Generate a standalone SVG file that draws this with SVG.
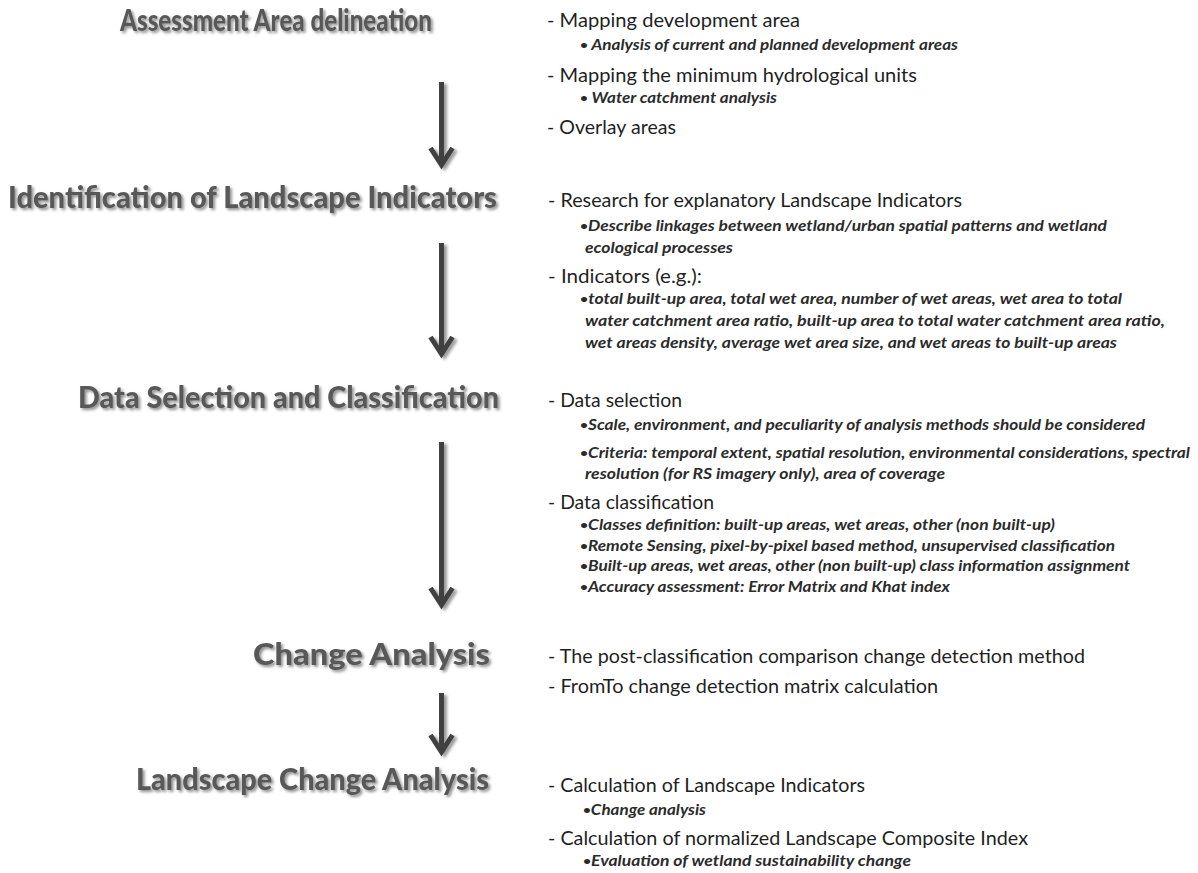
<svg xmlns="http://www.w3.org/2000/svg" width="1198" height="873" viewBox="0 0 1198 873">
<defs>
<filter id="sh" x="-10%" y="-30%" width="130%" height="180%">
<feGaussianBlur in="SourceAlpha" stdDeviation="1.6"/>
<feOffset dx="2" dy="2" result="b"/>
<feComponentTransfer in="b" result="c"><feFuncA type="linear" slope="0.45"/></feComponentTransfer>
<feMerge><feMergeNode in="c"/><feMergeNode in="SourceGraphic"/></feMerge>
</filter>
<filter id="ash" filterUnits="userSpaceOnUse" x="400" y="60" width="90" height="720">
<feGaussianBlur in="SourceAlpha" stdDeviation="1.8"/>
<feOffset dx="3" dy="2" result="b"/>
<feComponentTransfer in="b" result="c"><feFuncA type="linear" slope="0.4"/></feComponentTransfer>
<feMerge><feMergeNode in="c"/><feMergeNode in="SourceGraphic"/></feMerge>
</filter>
</defs>
<style>
.h{font-family:Lato,"Liberation Sans",sans-serif;font-weight:900;font-size:30px;fill:#595959}
.d{font-family:Lato,"Liberation Sans",sans-serif;font-size:19px;fill:#1f1f1f}
.b{font-family:Lato,"Liberation Sans",sans-serif;font-style:italic;font-weight:bold;font-size:15px;fill:#2b2b2b}
.bu{font-size:12px;font-style:normal;baseline-shift:1.5px}
.ar{stroke:#404040;stroke-width:5;fill:none;stroke-linejoin:miter;stroke-miterlimit:10}
</style>
<rect width="1198" height="873" fill="#ffffff"/>
<g id="connectors" filter="url(#ash)">
<path class="ar" d="M441.5,82 V164 M430.5,148 L441.5,165 L452.5,148"/>
<path class="ar" d="M441.5,243 V353 M430.5,337 L441.5,354 L452.5,337"/>
<path class="ar" d="M441.5,442 V604 M430.5,588 L441.5,605 L452.5,588"/>
<path class="ar" d="M441.5,693 V751 M430.5,735 L441.5,752 L452.5,735"/>
</g>
<g id="step1">
<text class="h" filter="url(#sh)" x="120" y="31" textLength="312" lengthAdjust="spacingAndGlyphs">Assessment Area delineation</text>
<text class="d" x="547" y="27" textLength="253" lengthAdjust="spacingAndGlyphs">- Mapping development area</text>
<text class="b" x="580" y="50" textLength="378" lengthAdjust="spacingAndGlyphs"><tspan class="bu">•</tspan> Analysis of current and planned development areas</text>
<text class="d" x="547" y="82" textLength="370" lengthAdjust="spacingAndGlyphs">- Mapping the minimum hydrological units</text>
<text class="b" x="580" y="103" textLength="197" lengthAdjust="spacingAndGlyphs"><tspan class="bu">•</tspan> Water catchment analysis</text>
<text class="d" x="547" y="134" textLength="129" lengthAdjust="spacingAndGlyphs">- Overlay areas</text>
</g>
<g id="step2">
<text class="h" filter="url(#sh)" x="8" y="208" textLength="489" lengthAdjust="spacingAndGlyphs">Identification of Landscape Indicators</text>
<text class="d" x="548" y="207" textLength="414" lengthAdjust="spacingAndGlyphs">- Research for explanatory Landscape Indicators</text>
<text class="b" x="580" y="231" textLength="527" lengthAdjust="spacingAndGlyphs"><tspan class="bu">•</tspan>Describe linkages between wetland/urban spatial patterns and wetland</text>
<text class="b" x="585" y="253" textLength="148" lengthAdjust="spacingAndGlyphs">ecological processes</text>
<text class="d" x="548" y="283" textLength="154" lengthAdjust="spacingAndGlyphs">- Indicators (e.g.):</text>
<text class="b" x="580" y="304" textLength="542" lengthAdjust="spacingAndGlyphs"><tspan class="bu">•</tspan>total built-up area, total wet area, number of wet areas, wet area to total</text>
<text class="b" x="585" y="326" textLength="580" lengthAdjust="spacingAndGlyphs">water catchment area ratio, built-up area to total water catchment area ratio,</text>
<text class="b" x="585" y="348" textLength="532" lengthAdjust="spacingAndGlyphs">wet areas density, average wet area size, and wet areas to built-up areas</text>
</g>
<g id="step3">
<text class="h" filter="url(#sh)" x="78" y="408" textLength="421" lengthAdjust="spacingAndGlyphs">Data Selection and Classification</text>
<text class="d" x="548" y="407" textLength="134" lengthAdjust="spacingAndGlyphs">- Data selection</text>
<text class="b" x="580" y="430" textLength="565" lengthAdjust="spacingAndGlyphs"><tspan class="bu">•</tspan>Scale, environment, and peculiarity of analysis methods should be considered</text>
<text class="b" x="580" y="458" textLength="610" lengthAdjust="spacingAndGlyphs"><tspan class="bu">•</tspan>Criteria: temporal extent, spatial resolution, environmental considerations, spectral</text>
<text class="b" x="585" y="479" textLength="360" lengthAdjust="spacingAndGlyphs">resolution (for RS imagery only), area of coverage</text>
<text class="d" x="548" y="509" textLength="166" lengthAdjust="spacingAndGlyphs">- Data classification</text>
<text class="b" x="580" y="530" textLength="475" lengthAdjust="spacingAndGlyphs"><tspan class="bu">•</tspan>Classes definition: built-up areas, wet areas, other (non built-up)</text>
<text class="b" x="580" y="551" textLength="535" lengthAdjust="spacingAndGlyphs"><tspan class="bu">•</tspan>Remote Sensing, pixel-by-pixel based method, unsupervised classification</text>
<text class="b" x="580" y="571" textLength="550" lengthAdjust="spacingAndGlyphs"><tspan class="bu">•</tspan>Built-up areas, wet areas, other (non built-up) class information assignment</text>
<text class="b" x="580" y="592" textLength="370" lengthAdjust="spacingAndGlyphs"><tspan class="bu">•</tspan>Accuracy assessment: Error Matrix and Khat index</text>
</g>
<g id="step4">
<text class="h" filter="url(#sh)" x="253" y="665" textLength="237" lengthAdjust="spacingAndGlyphs">Change Analysis</text>
<text class="d" x="548" y="663" textLength="537" lengthAdjust="spacingAndGlyphs">- The post-classification comparison change detection method</text>
<text class="d" x="548" y="693" textLength="390" lengthAdjust="spacingAndGlyphs">- FromTo change detection matrix calculation</text>
</g>
<g id="step5">
<text class="h" filter="url(#sh)" x="136" y="790" textLength="353" lengthAdjust="spacingAndGlyphs">Landscape Change Analysis</text>
<text class="d" x="548" y="792" textLength="317" lengthAdjust="spacingAndGlyphs">- Calculation of Landscape Indicators</text>
<text class="b" x="583" y="815" textLength="123" lengthAdjust="spacingAndGlyphs"><tspan class="bu">•</tspan>Change analysis</text>
<text class="d" x="548" y="845" textLength="480" lengthAdjust="spacingAndGlyphs">- Calculation of normalized Landscape Composite Index</text>
<text class="b" x="583" y="866" textLength="328" lengthAdjust="spacingAndGlyphs"><tspan class="bu">•</tspan>Evaluation of wetland sustainability change</text>
</g>
</svg>
